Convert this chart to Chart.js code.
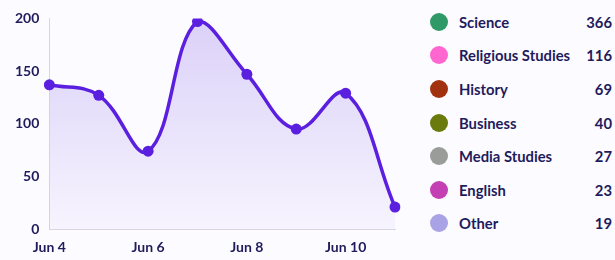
<!DOCTYPE html>
<html>
<head>
<meta charset="utf-8">
<script src="https://cdn.jsdelivr.net/npm/chart.js@4"></script>
<style>
  html, body { margin: 0; padding: 0; background: #fcfbff; }
  body { width: 615px; height: 260px; position: relative; overflow: hidden; font-family: Lato, "Open Sans", sans-serif; }
  #wrap { position: absolute; left: 0; top: 0; width: 405px; height: 266px; }
  #legend { position: absolute; left: 430px; top: 5px; width: 182px; }
  .row { display: flex; align-items: center; height: 33.6px; font-weight: 700; font-size: 14.8px; color: #1f1b5c; }
  .dot { width: 18px; height: 18px; border-radius: 50%; margin-right: 11px; }
  .lab { flex: 1; }
  .val { text-align: right; }
</style>
</head>
<body>
<div id="wrap"><canvas id="c"></canvas></div>
<div id="legend"></div>
<script>
  // line series: daily counts
  var days = ["Jun 4", "Jun 5", "Jun 6", "Jun 7", "Jun 8", "Jun 9", "Jun 10", "Jun 11"];
  var counts = [137, 127, 74, 197, 147, 95, 129, 21];
  var yTicks = [0, 50, 100, 150, 200];

  // legend list: subjects and totals
  var subjects = ["Science", "Religious Studies", "History", "Business", "Media Studies", "English", "Other"];
  var totals = [366, 116, 69, 40, 27, 23, 19];
  var subjectColors = ["#2f9a68", "#ff66d0", "#a2320f", "#6a7a0c", "#9a9c9a", "#c43fb4", "#a9a2e4"];

  var TEXT = "#1f1b5c";
  var LINE = "#5b1fe0";

  var legend = document.getElementById("legend");
  subjects.forEach(function (s, i) {
    legend.innerHTML += '<div class="row"><span class="dot" style="background:' + subjectColors[i] + '"></span>' +
      '<span class="lab">' + s + '</span><span class="val">' + totals[i] + '</span></div>';
  });

  var ctx = document.getElementById("c");
  new Chart(ctx, {
    type: "line",
    data: {
      labels: days,
      datasets: [{
        data: counts,
        borderColor: LINE,
        borderWidth: 3.5,
        pointRadius: 5.5,
        pointBackgroundColor: LINE,
        pointBorderWidth: 0,
        tension: 0.4,
        fill: true,
        backgroundColor: function (c) {
          var a = c.chart.chartArea;
          if (!a) return "rgba(150,120,235,0.25)";
          var g = c.chart.ctx.createLinearGradient(0, a.top, 0, a.bottom);
          g.addColorStop(0, "rgba(150,120,235,0.32)");
          g.addColorStop(1, "rgba(150,120,235,0.05)");
          return g;
        }
      }]
    },
    options: {
      responsive: true, maintainAspectRatio: false, animation: false,
      layout: { padding: { top: 14, right: 10, left: 5, bottom: 0 } },
      plugins: { legend: { display: false }, tooltip: { enabled: false } },
      scales: {
        x: {
          offset: false,
          grid: { display: false, drawTicks: false },
          border: { color: "#d8d6e2" },
          ticks: {
            color: TEXT, font: { family: "Lato", weight: "bold", size: 14 }, padding: 10,
            autoSkip: false, maxRotation: 0,
            callback: function (v, i) { return i % 2 === 0 ? days[i] : ""; }
          }
        },
        y: {
          min: yTicks[0], max: yTicks[yTicks.length - 1],
          grid: { display: false, drawTicks: false },
          border: { color: "#d8d6e2" },
          afterBuildTicks: function (ax) { ax.ticks = yTicks.map(function (v) { return { value: v }; }); },
          ticks: { color: TEXT, font: { family: "Lato", weight: "bold", size: 14 }, padding: 10 }
        }
      }
    }
  });
</script>
</body>
</html>
